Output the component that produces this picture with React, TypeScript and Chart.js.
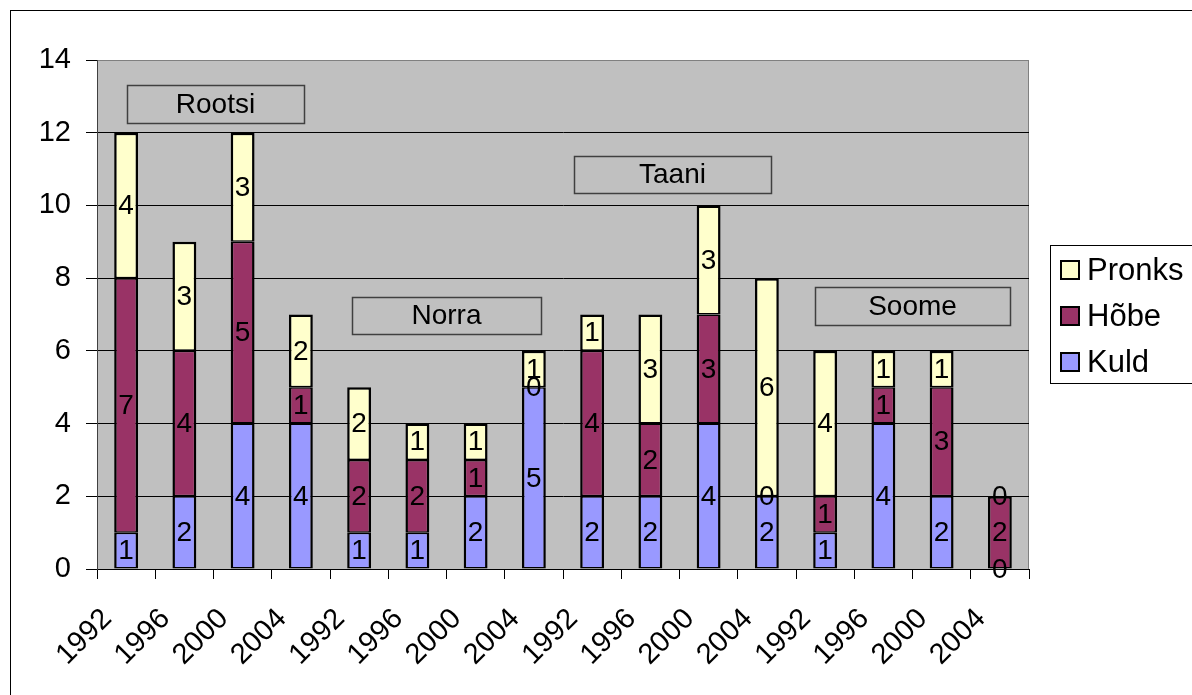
import React, { useEffect, useRef } from "react";
import { Chart, registerables } from "chart.js";

Chart.register(...registerables);

const categories = [
  "1992", "1996", "2000", "2004",
  "1992", "1996", "2000", "2004",
  "1992", "1996", "2000", "2004",
  "1992", "1996", "2000", "2004",
];
const kuld = [1, 2, 4, 4, 1, 1, 2, 5, 2, 2, 4, 2, 1, 4, 2, 0];
const hobe = [7, 4, 5, 1, 2, 2, 1, 0, 4, 2, 3, 0, 1, 1, 3, 2];
const pronks = [4, 3, 3, 2, 2, 1, 1, 1, 1, 3, 3, 6, 4, 1, 1, 0];
const seriesNames = ["Kuld", "Hõbe", "Pronks"];
const yTicks = [0, 2, 4, 6, 8, 10, 12, 14];

const groupNames = ["Rootsi", "Norra", "Taani", "Soome"];

// annotation boxes, anchored in data coordinates (category index, value)
const boxLayout = [
  { x0: 0.015, x1: 3.05, yTop: 13.3, yBottom: 12.27 },
  { x0: 3.88, x1: 7.12, yTop: 7.48, yBottom: 6.46 },
  { x0: 7.69, x1: 11.07, yTop: 11.36, yBottom: 10.34 },
  { x0: 11.83, x1: 15.17, yTop: 7.76, yBottom: 6.71 },
];

const colors = ["#9999FF", "#993366", "#FFFFCC"];
const FONT = "'Liberation Sans', Arial, sans-serif";
const allSeries = [kuld, hobe, pronks];

export default function App() {
  const ref = useRef<HTMLCanvasElement | null>(null);

  useEffect(() => {
    document.body.style.margin = "0";
    const canvas = ref.current!;

    const bgPlugin = {
      id: "bg",
      beforeDraw(chart: any) {
        const { ctx, chartArea: a } = chart;
        ctx.save();
        ctx.fillStyle = "#FFFFFF";
        ctx.fillRect(0, 0, chart.width, chart.height);
        ctx.strokeStyle = "#000";
        ctx.lineWidth = 1;
        ctx.strokeRect(10.5, 10.5, 1300, 800);
        ctx.fillStyle = "#C0C0C0";
        ctx.fillRect(a.left, a.top, a.right - a.left, a.bottom - a.top);
        ctx.strokeStyle = "#808080";
        ctx.strokeRect(a.left + 0.5, a.top + 0.5, a.right - a.left - 1, a.bottom - a.top);
        ctx.restore();
      },
    };

    const labelPlugin = {
      id: "vals",
      afterDatasetsDraw(chart: any) {
        const { ctx } = chart;
        ctx.save();
        ctx.font = `28px ${FONT}`;
        ctx.fillStyle = "#000";
        ctx.textAlign = "center";
        ctx.textBaseline = "middle";
        chart.data.datasets.forEach((ds: any, i: number) => {
          const meta = chart.getDatasetMeta(i);
          meta.data.forEach((bar: any, j: number) => {
            const v = ds.data[j];
            const y = (bar.y + bar.base) / 2;
            ctx.fillText(String(v), bar.x, y + 1);
          });
        });
        ctx.restore();
      },
    };

    const annoPlugin = {
      id: "anno",
      afterDatasetsDraw(chart: any) {
        const { ctx } = chart;
        const xs = chart.scales.x;
        const ys = chart.scales.y;
        ctx.save();
        groupNames.forEach((name, i) => {
          const b = boxLayout[i];
          const x0 = Math.round(xs.getPixelForValue(b.x0));
          const x1 = Math.round(xs.getPixelForValue(b.x1));
          const y0 = Math.round(ys.getPixelForValue(b.yTop));
          const y1 = Math.round(ys.getPixelForValue(b.yBottom));
          ctx.fillStyle = "#C0C0C0";
          ctx.fillRect(x0, y0, x1 - x0, y1 - y0);
          ctx.strokeStyle = "#404040";
          ctx.lineWidth = 1.5;
          ctx.strokeRect(x0 + 0.5, y0 + 0.5, x1 - x0, y1 - y0);
          ctx.fillStyle = "#000";
          ctx.font = `28px ${FONT}`;
          ctx.textAlign = "center";
          ctx.textBaseline = "middle";
          ctx.fillText(name, (x0 + x1) / 2, (y0 + y1) / 2 + 1);
        });
        ctx.restore();
      },
    };

    const legendPlugin = {
      id: "customLegend",
      afterDraw(chart: any) {
        const { ctx } = chart;
        ctx.save();
        const lx = 1050, ly = 245, lw = 160, lh = 138;
        ctx.fillStyle = "#FFFFFF";
        ctx.fillRect(lx, ly, lw, lh);
        ctx.strokeStyle = "#000";
        ctx.lineWidth = 1;
        ctx.strokeRect(lx + 0.5, ly + 0.5, lw, lh);
        const order = [2, 1, 0];
        order.forEach((si, k) => {
          const cy = 270 + k * 46;
          ctx.fillStyle = colors[si];
          ctx.fillRect(1061, cy - 9, 18, 18);
          ctx.strokeStyle = "#000";
          ctx.lineWidth = 2;
          ctx.strokeRect(1061, cy - 9, 18, 18);
          ctx.fillStyle = "#000";
          ctx.font = `31px ${FONT}`;
          ctx.textAlign = "left";
          ctx.textBaseline = "middle";
          ctx.fillText(seriesNames[si], 1087, cy + 1);
        });
        ctx.restore();
      },
    };

    const isTopSegment = (dsIndex: number, idx: number) => {
      for (let k = dsIndex + 1; k < allSeries.length; k++) {
        if (allSeries[k][idx] !== 0) return false;
      }
      return true;
    };

    const chart = new Chart(canvas, {
      type: "bar",
      data: {
        labels: categories,
        datasets: allSeries.map((d, i) => ({
          label: seriesNames[i],
          data: d,
          backgroundColor: colors[i],
          borderColor: "#000",
          borderWidth: (c: any) => ({
            left: 2.5,
            right: 2.5,
            top: isTopSegment(c.datasetIndex, c.dataIndex) ? 2.5 : 1.5,
            bottom: 1.5,
          }),
          borderSkipped: false,
          barPercentage: 0.41,
          categoryPercentage: 1,
        })),
      },
      options: {
        responsive: false,
        animation: false,
        layout: { padding: { left: 0, top: 60, right: 163, bottom: 0 } },
        plugins: {
          legend: { display: false },
          tooltip: { enabled: false },
        },
        scales: {
          x: {
            stacked: true,
            offset: true,
            afterFit: (s: any) => { s.height = 126; },
            grid: {
              offset: true,
              drawOnChartArea: false,
              drawTicks: true,
              tickLength: 10,
              color: "#000",
            },
            border: { color: "#000", width: 1 },
            ticks: {
              color: "#000",
              font: { family: FONT, size: 29 },
              minRotation: 45,
              maxRotation: 45,
              autoSkip: false,
              padding: 23,
              labelOffset: -19,
            },
          },
          y: {
            stacked: true,
            min: 0,
            max: 14,
            afterFit: (s: any) => { s.width = 97; },
            afterBuildTicks: (s: any) => { s.ticks = yTicks.map((v) => ({ value: v })); },
            grid: {
              color: (c: any) => (c.tick && c.tick.value === 14 ? "#808080" : "#000"),
              tickColor: "#000",
              tickLength: 11,
              lineWidth: 1,
            },
            border: { color: "#404040", width: 1 },
            ticks: {
              color: "#000",
              font: { family: FONT, size: 29 },
              padding: 15,
            },
          },
        },
      },
      plugins: [bgPlugin, labelPlugin, annoPlugin, legendPlugin],
    });
    return () => chart.destroy();
  }, []);

  return (
    <div style={{ width: 1192, height: 695 }}>
      <canvas ref={ref} width={1192} height={695} style={{ display: "block" }} />
    </div>
  );
}
